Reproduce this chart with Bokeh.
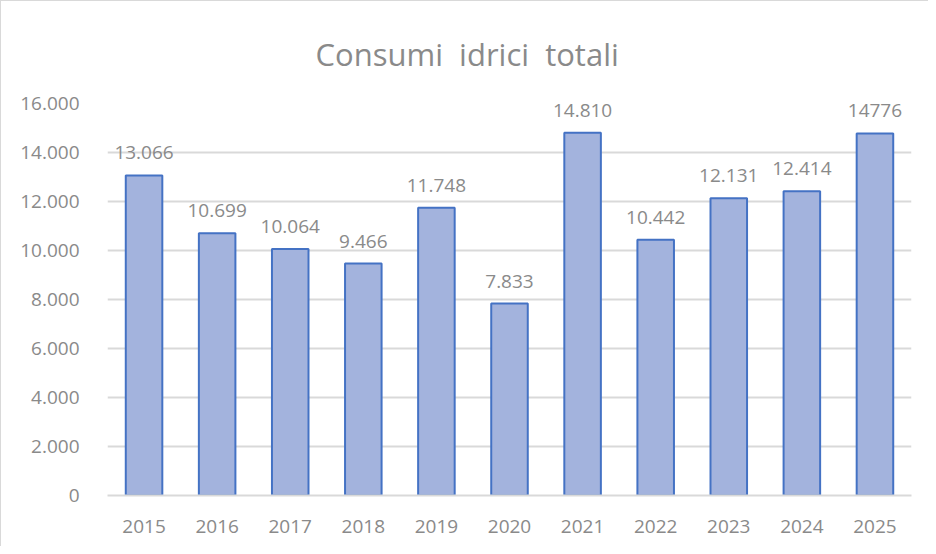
from bokeh.plotting import figure
from bokeh.models import ColumnDataSource, FactorRange, Range1d, LabelSet, Title, FixedTicker
from bokeh.core.properties import value
from bokeh.embed import file_html
from bokeh.resources import INLINE

years = ["2015", "2016", "2017", "2018", "2019", "2020", "2021", "2022", "2023", "2024", "2025"]
values = [13066, 10699, 10064, 9466, 11748, 7833, 14810, 10442, 12131, 12414, 14776]
value_labels = ["13.066", "10.699", "10.064", "9.466", "11.748", "7.833", "14.810", "10.442", "12.131", "12.414", "14776"]
y_ticks = [0, 2000, 4000, 6000, 8000, 10000, 12000, 14000, 16000]
y_tick_labels = ["0", "2.000", "4.000", "6.000", "8.000", "10.000", "12.000", "14.000", "16.000"]

FONT = "Open Sans"
GRAY = "#8a8a8a"
GRID = "#d9d9d9"

source = ColumnDataSource(dict(years=years, values=values, labels=value_labels))

p = figure(x_range=FactorRange(*years), y_range=Range1d(0, 16000),
           width=928, height=546, output_backend="svg", toolbar_location=None,
           min_border_left=106, min_border_right=18, min_border_top=102, min_border_bottom=52)
p.outline_line_color = None
p.styles = {"border-left": "1px solid #d9d9d9", "border-top": "1px solid #d9d9d9", "box-sizing": "border-box"}

p.vbar(x="years", top="values", width=0.5, source=source,
       fill_color="#a3b3dd", line_color="#4472c4", line_width=2)

p.add_layout(LabelSet(x="years", y="values", text="labels", source=source,
                      text_align="center", text_baseline="alphabetic", y_offset=16,
                      text_font=value(FONT), text_font_size=value("19px"), text_color=value(GRAY)))

t = Title(text="Consumi \u00a0idrici \u00a0totali", align="left", offset=208, standoff=58,
          text_font=FONT, text_font_size="31px", text_color=GRAY, text_font_style="normal")
p.add_layout(t, "above")

p.yaxis.ticker = FixedTicker(ticks=y_ticks)
p.yaxis.major_label_overrides = dict(zip(y_ticks, y_tick_labels))
p.yaxis.axis_line_color = None
p.yaxis.major_tick_line_color = None
p.yaxis.minor_tick_line_color = None
p.yaxis.major_label_standoff = 22
p.yaxis.major_label_text_font = FONT
p.yaxis.major_label_text_font_size = "19px"
p.yaxis.major_label_text_color = GRAY

p.xaxis.axis_line_color = GRID
p.xaxis.axis_line_width = 2
p.xaxis.major_tick_line_color = None
p.xaxis.minor_tick_line_color = None
p.xaxis.major_label_standoff = 18
p.xaxis.major_label_text_font = FONT
p.xaxis.major_label_text_font_size = "19px"
p.xaxis.major_label_text_color = GRAY

p.xgrid.grid_line_color = None
p.ygrid.grid_line_color = GRID
p.ygrid.grid_line_width = 2

open("out.html", "w").write(file_html(p, INLINE))
